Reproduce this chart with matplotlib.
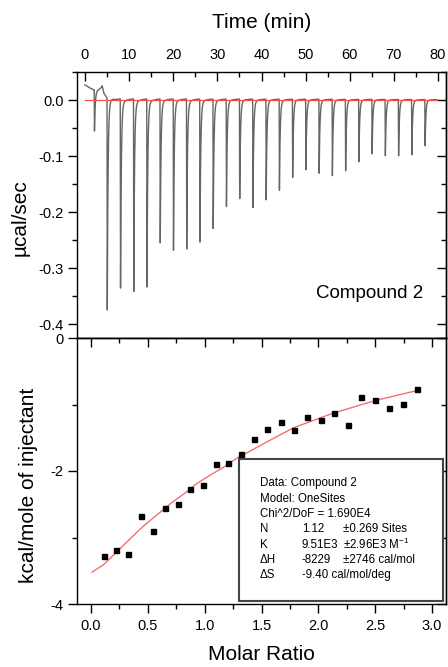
import numpy as np
import matplotlib
matplotlib.use("Agg")
import matplotlib.pyplot as plt
from matplotlib.ticker import MultipleLocator, FormatStrFormatter
from matplotlib.patches import Rectangle

plt.rcParams['font.family'] = ['Liberation Sans', 'DejaVu Sans']
plt.rcParams['axes.unicode_minus'] = False
plt.rcParams['mathtext.fontset'] = 'custom'
plt.rcParams['mathtext.rm'] = 'Liberation Sans'

# injections (min) and lowest point of each heat pulse (ucal/sec)
inj_time = [2.1, 5.0, 8.0, 11.0, 14.0, 17.0, 20.0, 23.0, 26.0, 29.0, 32.0, 35.0, 38.0,
            41.0, 44.0, 47.0, 50.0, 53.0, 56.0, 59.0, 62.0, 65.0, 68.0, 71.0, 74.0, 77.0]
peak_min = [-0.057, -0.378, -0.342, -0.345, -0.336, -0.260, -0.270, -0.268, -0.259,
            -0.230, -0.192, -0.180, -0.192, -0.180, -0.165, -0.138, -0.126, -0.134,
            -0.135, -0.128, -0.113, -0.096, -0.101, -0.102, -0.098, -0.083]
# raw baseline of the thermogram
base_time = [0.0, 1.0, 2.0, 3.0, 3.6, 3.9, 4.3, 5.0, 6.0, 7.0, 79.7]
base_val = [0.027, 0.022, 0.018, 0.019, 0.022, 0.026, 0.012, 0.004, 0.006, 0.003, 0.001]

# integrated heats
molar_ratio = [0.117, 0.223, 0.328, 0.437, 0.542, 0.648, 0.762, 0.871, 0.985, 1.097,
               1.208, 1.319, 1.437, 1.551, 1.668, 1.785, 1.902, 2.020, 2.137, 2.258,
               2.377, 2.498, 2.621, 2.744, 2.867]
heat = [-3.285, -3.19, -3.25, -2.67, -2.90, -2.55, -2.495, -2.275, -2.205, -1.90,
        -1.885, -1.75, -1.525, -1.37, -1.265, -1.38, -1.185, -1.24, -1.13, -1.31,
        -0.89, -0.935, -1.05, -0.985, -0.765]
# OneSites fit curve
fit_x = [0.01, 0.11, 0.23, 0.35, 0.46, 0.58, 0.70, 0.82, 0.93, 1.05, 1.17, 1.28,
         1.40, 1.55, 1.78, 2.13, 2.50, 2.88]
fit_y = [-3.52, -3.41, -3.21, -3.01, -2.83, -2.66, -2.49, -2.34, -2.19, -2.06, -1.94,
         -1.81, -1.70, -1.56, -1.35, -1.13, -0.94, -0.785]

fit_lines = [
    ("Data: Compound 2", "", ""),
    ("Model: OneSites", "", ""),
    ("Chi^2/DoF = 1.690E4", "", ""),
    ("N", "1.12", "\u00b10.269 Sites"),
    ("K", "9.51E3", "\u00b12.96E3 M$^{-1}$"),
    ("\u0394H", "-8229", "\u00b12746 cal/mol"),
    ("\u0394S", "-9.40 cal/mol/deg", ""),
]

W_PX, H_PX = 448, 667


def px(x, y):
    return x / W_PX, 1 - y / H_PX


fig = plt.figure(figsize=(4.48, 6.67), dpi=100)
left, right = 77 / W_PX, 446 / W_PX
ax1 = fig.add_axes([left, 1 - 338 / H_PX, right - left, (338 - 72) / H_PX])
ax2 = fig.add_axes([left, 1 - 604 / H_PX, right - left, (604 - 338) / H_PX])

# thermogram trace: sharp drop, fast recovery and a small slow tail
t = np.linspace(0, 79.7, 12000)
trace = np.interp(t, base_time, base_val)
for ti, pm in zip(inj_time, peak_min):
    depth = pm - np.interp(ti, base_time, base_val)
    dt = t - ti
    dts = np.clip(dt - 0.06, 0, None)
    recov = 0.975 * np.exp(-dts / 0.17) + 0.025 * np.exp(-dts / 1.3)
    shape = np.where(dt < 0, 0.0, np.where(dt < 0.06, dt / 0.06, recov))
    trace = trace + depth * shape
ax1.plot(t, trace, color='#666666', lw=1.0)
ax1.plot([0, 79.7], [0, 0], color='#ff4a4a', lw=0.9)

ax1.set_xlim(-1.8, 81.8)
ax1.set_ylim(-0.425, 0.05)
ax2.set_xlim(-0.123, 3.122)
ax2.set_ylim(-4, 0)

# binding isotherm
ax2.plot(fit_x, fit_y, color='#f27070', lw=1.0)
ax2.plot(molar_ratio, heat, 's', color='black', ms=3.6)

major_len, minor_len = 6.5, 3.6
for ax in (ax1, ax2):
    for sp in ax.spines.values():
        sp.set_linewidth(1.0)
    ax.tick_params(which='both', labelsize=10.5, width=1.0)
    ax.tick_params(which='major', length=major_len)
    ax.tick_params(which='minor', length=minor_len)
    ax.tick_params(axis='y', which='both', direction='out', left=True, right=False)

# top panel: time axis on top, ticks inward
ax1.xaxis.set_major_locator(MultipleLocator(10))
ax1.xaxis.set_minor_locator(MultipleLocator(5))
ax1.tick_params(axis='x', which='both', direction='in', top=True, bottom=False,
                labeltop=True, labelbottom=False, pad=7)
ax1.yaxis.set_major_locator(MultipleLocator(0.1))
ax1.yaxis.set_minor_locator(MultipleLocator(0.05))
ax1.yaxis.set_major_formatter(FormatStrFormatter('%.1f'))
ax1.tick_params(axis='y', pad=3)

# bottom panel
ax2.xaxis.set_major_locator(MultipleLocator(0.5))
ax2.xaxis.set_minor_locator(MultipleLocator(0.25))
ax2.xaxis.set_major_formatter(FormatStrFormatter('%.1f'))
ax2.tick_params(axis='x', which='both', direction='out', top=False, bottom=True, pad=4)
ax2.yaxis.set_major_locator(MultipleLocator(2))
ax2.yaxis.set_minor_locator(MultipleLocator(1))
ax2.yaxis.set_major_formatter(FormatStrFormatter('%d'))
ax2.tick_params(axis='y', pad=3)

# inward ticks on the opposite sides
for ax, ymaj, ymin in ((ax1, 0.1, 0.05), (ax2, 2, 1)):
    sec = ax.secondary_yaxis('right')
    sec.yaxis.set_major_locator(MultipleLocator(ymaj))
    sec.yaxis.set_minor_locator(MultipleLocator(ymin))
    sec.tick_params(which='both', direction='in', labelright=False, width=1.0)
    sec.tick_params(which='major', length=major_len)
    sec.tick_params(which='minor', length=minor_len)
    sec.spines['right'].set_linewidth(1.0)
sec_top = ax2.secondary_xaxis('top')
sec_top.xaxis.set_major_locator(MultipleLocator(0.5))
sec_top.xaxis.set_minor_locator(MultipleLocator(0.25))
sec_top.tick_params(which='both', direction='in', labeltop=False, width=1.0)
sec_top.tick_params(which='major', length=major_len)
sec_top.tick_params(which='minor', length=minor_len)
sec_top.spines['top'].set_linewidth(1.0)

# axis titles
fig.text(*px(261.5, 22), "Time (min)", fontsize=15, ha='center', va='center')
fig.text(*px(20, 218), "\u00b5cal/sec", fontsize=15, ha='center', va='center', rotation=90)
fig.text(*px(28, 485), "kcal/mole of injectant", fontsize=15, ha='center', va='center',
         rotation=90)
fig.text(*px(261.5, 655), "Molar Ratio", fontsize=15, ha='center', va='center')
fig.text(*px(423, 293), "Compound 2", fontsize=13.5, ha='right', va='center')

# fit results box
ax2.add_patch(Rectangle((0.439, 0.0124), 0.553, 0.533, transform=ax2.transAxes,
                        facecolor='white', edgecolor='#444444', lw=1.5, zorder=3))
for k, (c1, c2, c3) in enumerate(fit_lines):
    y = 483.3 + 15.3 * k
    fig.text(*px(260, y), c1, fontsize=8.3, va='center', zorder=5)
    if c2:
        fig.text(*px(301.7, y), c2, fontsize=8.3, va='center', zorder=5)
    if c3:
        fig.text(*px(343.3, y), c3, fontsize=8.3, va='center', zorder=5)

fig.savefig("out.png", dpi=100)
